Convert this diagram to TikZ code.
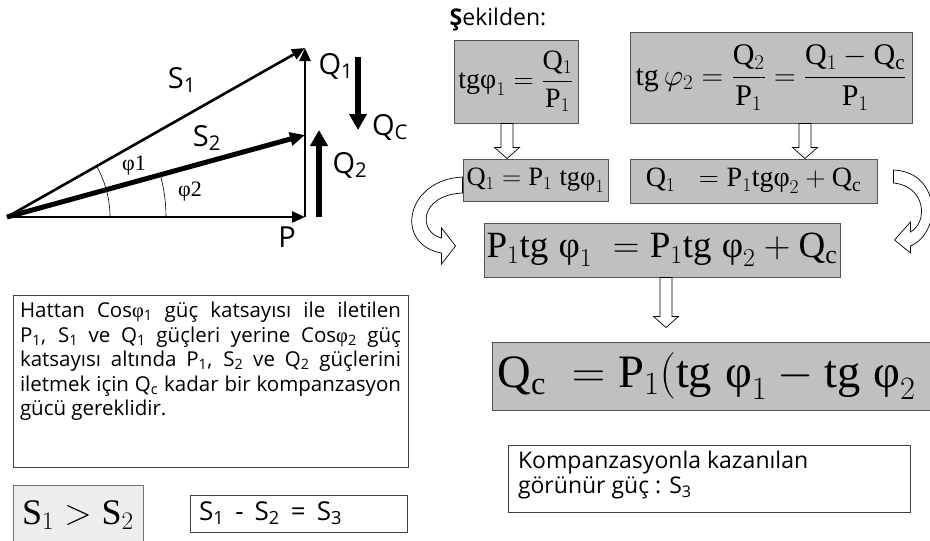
\RequirePackage{fix-cm}
\documentclass[tikz,border=0pt]{standalone}
\usepackage{amsmath}
\usepackage{fontspec}
\setmainfont{Liberation Serif}
\setsansfont{Open Sans}
\setmathrm{Liberation Serif}
\usepackage{tikz}
\usetikzlibrary{arrows.meta, calc}
\definecolor{boxgray}{RGB}{192,192,192}
\definecolor{lightbox}{RGB}{238,238,238}
\definecolor{edgegray}{RGB}{85,85,85}
\newcommand{\phiup}{\text{φ}}
% hollow block arrow pointing down, from #1 to #2
\newcommand{\blockdown}[2]{%
  \path[hollow] let \p1=(#1), \p2=(#2) in
    (\x1-6pt,\y1) -- (\x1+6pt,\y1) -- (\x1+6pt,\y2+11pt) -- (\x1+12.5pt,\y2+11pt)
    -- (\x1,\y2) -- (\x1-12.5pt,\y2+11pt) -- (\x1-6pt,\y2+11pt) -- cycle;}

\begin{document}
\begin{tikzpicture}[x=1pt, y=-1pt,
    eqbox/.style={rectangle, draw=edgegray, fill=boxgray, line width=1pt,
                  inner sep=0pt, font=\rmfamily},
    txtbox/.style={rectangle, draw=black!75, line width=0.9pt,
                   inner sep=0pt, font=\sffamily},
    lbl/.style={font=\sffamily\fontsize{29}{32}\selectfont, inner sep=0pt},
    anglbl/.style={font=\rmfamily\fontsize{22}{24}\selectfont, inner sep=0pt},
    vec/.style={line width=2.6pt, -{Triangle[length=13pt, width=11pt]}},
    fatvec/.style={line width=5.5pt, -{Triangle[length=16pt, width=17pt]}},
    hollow/.style={draw=black, fill=white, line width=0.7pt}
]
    \clip (0,0) rectangle (930,541);

    % power triangle
    \coordinate (o) at (7,217);
    \coordinate (top) at (305,48);
    \coordinate (mid) at (305,135);
    \coordinate (pend) at (305,217);
    \coordinate (q2s) at (319,217);
    \coordinate (q2e) at (319,130);
    \coordinate (qcs) at (358,57);
    \coordinate (qce) at (358,130);

    \draw[vec] (o) -- (pend);
    \draw[vec] (pend) -- (top);
    \draw[vec] (o) -- (top);
    \draw[line width=5pt, -{Triangle[length=15pt, width=13pt]}] (o) -- (mid);
    \draw[fatvec] (q2s) -- (q2e);
    \draw[fatvec] (qcs) -- (qce);

    \draw[line width=0.6pt] ([xshift=103pt]o) arc[start angle=0, end angle=29.6, radius=103pt];
    \draw[line width=0.6pt] ([xshift=159pt]o) arc[start angle=0, end angle=15.4, radius=159pt];

    \node[lbl] (ls1) at (182,80) {S\textsubscript{1}};
    \node[lbl] (ls2) at (207,138) {S\textsubscript{2}};
    \node[lbl] (lq1) at (336,66) {Q\textsubscript{1}};
    \node[lbl] (lqc) at (390,127) {Q\textsubscript{C}};
    \node[lbl] (lq2) at (350,165) {Q\textsubscript{2}};
    \node[lbl] (lp) at (287,237) {P};
    \node[anglbl] (lf1) at (134,166) {φ1};
    \node[anglbl] (lf2) at (190,192) {φ2};

    % derivation
    \node[font=\sffamily\fontsize{23}{26}\selectfont, inner sep=0pt] (sek) at (498,20)
        {{\bfseries Ş}ekilden:};

    \node[eqbox, minimum width=124pt, minimum height=83pt] (t1) at (516,81.5)
        {\fontsize{28}{32}\selectfont
         $\mathrm{tg}\phiup_1 = \dfrac{\mathrm{Q}_1}{\mathrm{P}_1}$};
    \node[eqbox, minimum width=282pt, minimum height=91pt] (t2) at (771,77.5)
        {\fontsize{30}{34}\selectfont
         $\mathrm{tg}\,\varphi_2 = \dfrac{\mathrm{Q}_2}{\mathrm{P}_1}
          = \dfrac{\mathrm{Q}_1 - \mathrm{Q}_\mathrm{c}}{\mathrm{P}_1}$};
    \node[eqbox, minimum width=145pt, minimum height=42pt] (q1) at (535.5,180)
        {\fontsize{26.5}{30}\selectfont
         $\mathrm{Q}_1 = \mathrm{P}_1\;\mathrm{tg}\phiup_1$};
    \node[eqbox, minimum width=247pt, minimum height=44pt] (q2) at (753.5,181)
        {\fontsize{28}{30}\selectfont
         $\mathrm{Q}_1\;\; = \mathrm{P}_1\mathrm{tg}\phiup_2 + \mathrm{Q}_\mathrm{c}$};
    \node[eqbox, minimum width=356pt, minimum height=54pt] (eq) at (662,250)
        {\fontsize{37}{42}\selectfont
         $\mathrm{P}_1\mathrm{tg}\;\phiup_1\; = \mathrm{P}_1\mathrm{tg}\;\phiup_2 + \mathrm{Q}_\mathrm{c}$};
    \node[eqbox, minimum width=453pt, minimum height=68pt, anchor=west,
          align=left, text width=443pt, inner xsep=5pt] (qc) at (492,376)
        {\fontsize{46.5}{52}\selectfont
         $\mathrm{Q}_\mathrm{c}\; = \mathrm{P}_1(\mathrm{tg}\;\phiup_1 - \mathrm{tg}\;\phiup_2$};

    \blockdown{[xshift=-9pt]t1.south}{q1.north}
    \blockdown{[xshift=34pt]t2.south}{q2.north}
    \blockdown{[xshift=4pt]eq.south}{[yshift=14pt]qc.north}

    % curved arrows into the combined equation
    \begin{scope}[shift={(q1.west)}]
        \path[hollow] (0,-3) .. controls (-58,0) and (-68,65) .. (-21,73)
            -- (-21,84) -- (-7,66) -- (-21,48) -- (-21,58)
            .. controls (-45,52) and (-43,15) .. (0,13) -- cycle;
    \end{scope}
    \begin{scope}[shift={(q2.east)}]
        \path[hollow] (16,-11) .. controls (63,-9) and (65,51) .. (33,65)
            -- (33,72) -- (17,59) -- (33,41) -- (33,51)
            .. controls (51,41) and (48,5) .. (16,2) -- cycle;
    \end{scope}

    % explanations
    \node[txtbox, minimum width=395pt, minimum height=172pt] (info) at (210.5,381)
        {\parbox[c][158pt][t]{381pt}{\fontsize{20.5}{24.5}\selectfont
         \hyphenpenalty=10000
         Hattan Cos{\rmfamily φ}\textsubscript{1} güç katsayısı ile iletilen\linebreak
         P\textsubscript{1}, S\textsubscript{1} ve Q\textsubscript{1} güçleri yerine
         Cos{\rmfamily φ}\textsubscript{2} güç\linebreak
         katsayısı altında P\textsubscript{1}, S\textsubscript{2} ve
         Q\textsubscript{2} güçlerini\linebreak
         iletmek için Q\textsubscript{c} kadar bir kompanzasyon\linebreak
         gücü gereklidir.}};

    \node[txtbox, minimum width=402pt, minimum height=67pt] (komp) at (709,478.5)
        {\parbox[c][55pt][t]{382pt}{\fontsize{23}{25}\selectfont
         Kompanzasyonla kazanılan\\
         görünür güç : S\textsubscript{3}}};

    \node[rectangle, draw=black!55, fill=lightbox, line width=0.9pt,
          minimum width=130pt, minimum height=60pt, inner sep=0pt,
          font=\rmfamily] (s12) at (78,515)
        {\fontsize{36}{40}\selectfont $\mathrm{S}_1 > \mathrm{S}_2$};
    \node[txtbox, minimum width=217pt, minimum height=37pt] (s3) at (298.5,513.5)
        {\parbox{199pt}{\fontsize{26}{28}\selectfont
         S\textsubscript{1} \,-\, S\textsubscript{2} \,=\, S\textsubscript{3}}};
\end{tikzpicture}
\end{document}
